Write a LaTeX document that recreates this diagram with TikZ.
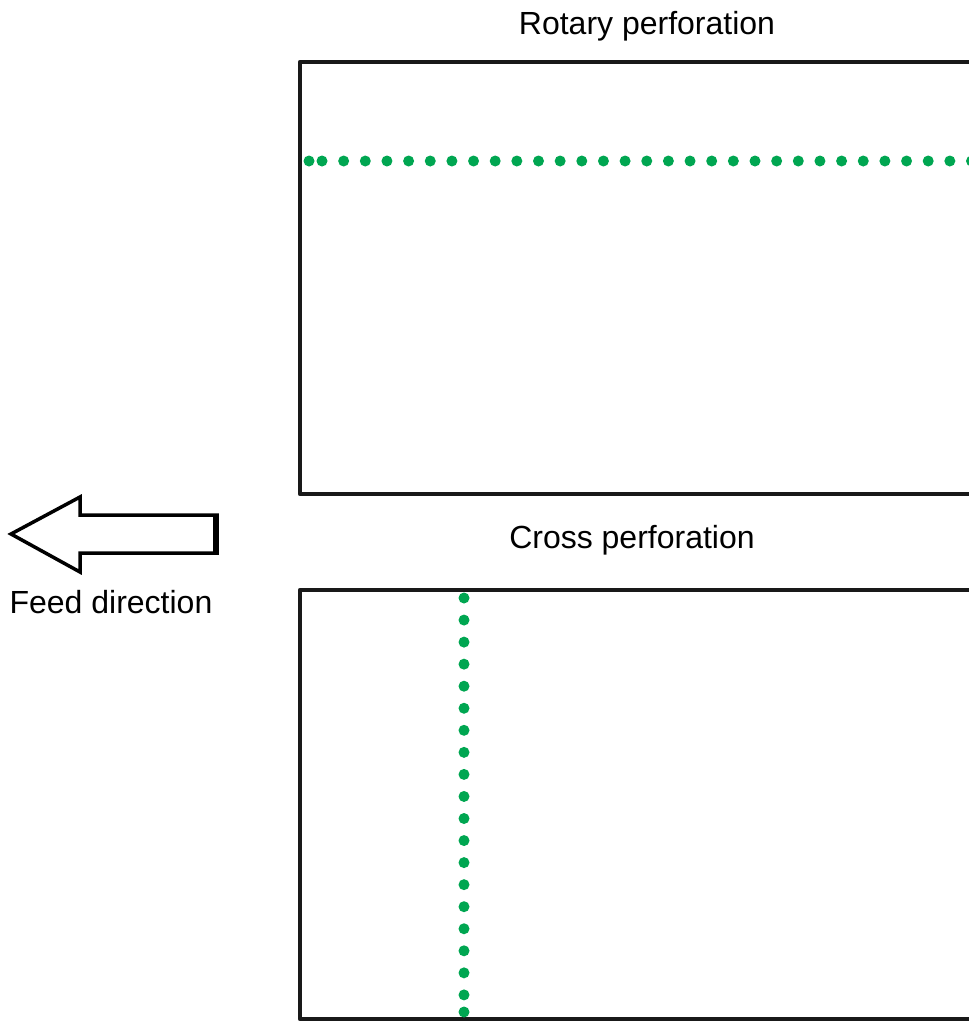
\documentclass[tikz,border=0pt]{standalone}
\usepackage{fontspec}
\setmainfont{Liberation Sans}
\definecolor{perfgreen}{RGB}{0,166,81}
\tikzset{
    sheet/.style={line width=4.5pt, line join=round, draw=black!90},
    perfdot/.style={fill=perfgreen},
    caption/.style={font=\fontsize{32}{38}\selectfont, inner sep=0pt}
}

\begin{document}
\begin{tikzpicture}[x=1pt,y=-1pt]
            \clip (0,0) rectangle (969,1021);
            \draw[sheet] (300,62) rectangle (1010,494);
            \draw[sheet] (300,590) rectangle (1010,1019);
            \node[caption] (rotary) at (647,26) {Rotary perforation};
            \node[caption] (cross) at (632,540) {Cross perforation};
            \node[caption] (feed) at (111,602) {Feed direction};
            \fill[perfdot] (309,161) circle (5.5);
            \foreach \i in {0,...,30} \fill[perfdot] (322+21.65*\i,161) circle (5.5);
            \foreach \j in {0,...,18} \fill[perfdot] (464,598+22.05*\j) circle (5.5);
            \fill[perfdot] (464,1012) circle (5.5);
            \draw[line width=3.5pt, line join=miter] (217,515)--(80,515)--(80,497)--(11,534)--(80,572)--(80,553)--(217,553)--cycle;
            \draw[line width=6pt] (216,515)--(216,553);
        \end{tikzpicture}
\end{document}
